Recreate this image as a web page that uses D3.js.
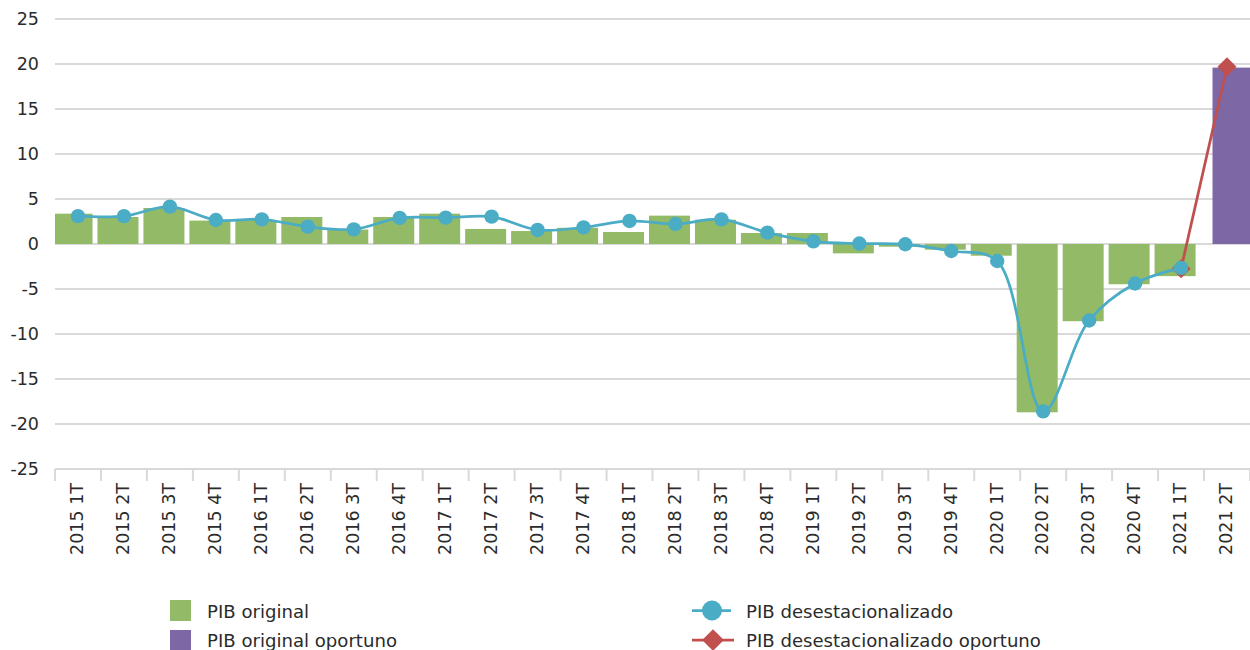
<!DOCTYPE html>
<html>
<head>
<meta charset="utf-8">
<script src="https://cdn.jsdelivr.net/npm/d3@7"></script>
<style>
  html, body { margin: 0; padding: 0; background: #fff; }
  svg { display: block; font-family: "DejaVu Sans", Verdana, sans-serif; }
</style>
</head>
<body>
<svg id="chart" width="1250" height="650"></svg>
<script>
const categories = ["2015 1T","2015 2T","2015 3T","2015 4T","2016 1T","2016 2T","2016 3T","2016 4T",
  "2017 1T","2017 2T","2017 3T","2017 4T","2018 1T","2018 2T","2018 3T","2018 4T",
  "2019 1T","2019 2T","2019 3T","2019 4T","2020 1T","2020 2T","2020 3T","2020 4T","2021 1T","2021 2T"];

const pibOriginal = [3.37, 3.0, 4.0, 2.6, 2.67, 3.0, 1.6, 3.0, 3.37, 1.67, 1.44, 1.8, 1.33, 3.15, 2.7, 1.22,
  1.22, -1.04, -0.3, -0.63, -1.3, -18.7, -8.58, -4.47, -3.57, null];
const pibOriginalOportuno = [null,null,null,null,null,null,null,null,null,null,null,null,null,null,null,null,
  null,null,null,null,null,null,null,null,null, 19.6];
const pibDesestacionalizado = [3.1, 3.1, 4.15, 2.67, 2.74, 1.93, 1.63, 2.9, 2.93, 3.04, 1.56, 1.85, 2.56, 2.22, 2.74, 1.26,
  0.3, 0.05, -0.03, -0.78, -1.89, -18.6, -8.5, -4.39, -2.65, null];
const pibDesestacionalizadoOportuno = [null,null,null,null,null,null,null,null,null,null,null,null,null,null,null,null,
  null,null,null,null,null,null,null,null, -2.75, 19.7];

const yTicks = [25, 20, 15, 10, 5, 0, -5, -10, -15, -20, -25];

const seriesNames = ["PIB original", "PIB original oportuno", "PIB desestacionalizado", "PIB desestacionalizado oportuno"];
const colors = { green: "#93BA66", purple: "#7E67A5", blue: "#4BACC6", red: "#C0504D", grid: "#D9D9D9", text: "#2b2b2b" };

const svg = d3.select("#chart");
const plotLeft = 55, plotRight = 1250, plotTop = 19, plotBottom = 469;

const x = d3.scaleBand().domain(categories).range([plotLeft, plotRight]).padding(0);
const y = d3.scaleLinear().domain([-25, 25]).range([plotBottom, plotTop]);
const bw = x.bandwidth();
const barW = bw * 0.892;
const barOff = bw * 0.13;

svg.append("defs").append("clipPath").attr("id", "plotclip")
  .append("rect").attr("x", plotLeft).attr("y", 0).attr("width", plotRight - plotLeft).attr("height", 650);

// gridlines
svg.append("g").selectAll("line").data(yTicks).join("line")
  .attr("x1", plotLeft).attr("x2", plotRight)
  .attr("y1", d => y(d)).attr("y2", d => y(d))
  .attr("stroke", colors.grid).attr("stroke-width", 2);

// y labels
svg.append("g").selectAll("text").data(yTicks).join("text")
  .attr("x", 39).attr("y", d => y(d)).attr("dy", "0.36em")
  .attr("text-anchor", "end").attr("font-size", 17.5).attr("fill", colors.text)
  .text(d => d);

// x axis ticks
const tickXs = categories.map(c => x(c)).concat([plotRight]);
svg.append("g").selectAll("line").data(tickXs).join("line")
  .attr("x1", d => d).attr("x2", d => d)
  .attr("y1", plotBottom).attr("y2", plotBottom + 12)
  .attr("stroke", colors.grid).attr("stroke-width", 2);

// x labels
svg.append("g").selectAll("text").data(categories).join("text")
  .attr("transform", d => `translate(${x(d) + bw / 2 - 1},483) rotate(-90)`)
  .attr("dy", "0.36em")
  .attr("text-anchor", "end").attr("font-size", 17.5).attr("fill", colors.text)
  .text(d => d);

const bars = svg.append("g").attr("clip-path", "url(#plotclip)");
bars.selectAll("rect.g").data(categories.map((c, i) => ({ c, v: pibOriginal[i] })).filter(d => d.v !== null))
  .join("rect").attr("class", "g")
  .attr("x", d => x(d.c) + bw / 2 - barOff - barW / 2)
  .attr("width", barW)
  .attr("y", d => y(Math.max(0, d.v)))
  .attr("height", d => Math.abs(y(d.v) - y(0)))
  .attr("fill", colors.green);
bars.selectAll("rect.p").data(categories.map((c, i) => ({ c, v: pibOriginalOportuno[i] })).filter(d => d.v !== null))
  .join("rect").attr("class", "p")
  .attr("x", d => x(d.c) + bw / 2 + barOff - barW / 2)
  .attr("width", barW)
  .attr("y", d => y(Math.max(0, d.v)))
  .attr("height", d => Math.abs(y(d.v) - y(0)))
  .attr("fill", colors.purple);

const cx = c => x(c) + bw / 2;

// red line
const redData = categories.map((c, i) => ({ c, v: pibDesestacionalizadoOportuno[i] })).filter(d => d.v !== null);
svg.append("path").datum(redData)
  .attr("d", d3.line().x(d => cx(d.c)).y(d => y(d.v)))
  .attr("fill", "none").attr("stroke", colors.red).attr("stroke-width", 2.75);
const diamond = d3.symbol().type(d3.symbolDiamond2).size(230);
svg.append("g").selectAll("path").data(redData).join("path")
  .attr("transform", d => `translate(${cx(d.c)},${y(d.v)})`)
  .attr("d", diamond).attr("fill", colors.red);

// blue line
const blueData = categories.map((c, i) => ({ c, v: pibDesestacionalizado[i] })).filter(d => d.v !== null);
svg.append("path").datum(blueData)
  .attr("d", d3.line().x(d => cx(d.c)).y(d => y(d.v)).curve(d3.curveCatmullRom.alpha(0.5)))
  .attr("fill", "none").attr("stroke", colors.blue).attr("stroke-width", 2.75);
svg.append("g").selectAll("circle").data(blueData).join("circle")
  .attr("cx", d => cx(d.c)).attr("cy", d => y(d.v)).attr("r", 7.2)
  .attr("fill", colors.blue);

// legend
const lg = svg.append("g").attr("font-size", 18.1).attr("fill", colors.text);
lg.append("rect").attr("x", 170).attr("y", 600).attr("width", 21).attr("height", 21).attr("fill", colors.green);
lg.append("text").attr("x", 207).attr("y", 618).text(seriesNames[0]);
lg.append("rect").attr("x", 170).attr("y", 630).attr("width", 21).attr("height", 21).attr("fill", colors.purple);
lg.append("text").attr("x", 207).attr("y", 647).text(seriesNames[1]);

lg.append("line").attr("x1", 692).attr("x2", 731).attr("y1", 610.5).attr("y2", 610.5)
  .attr("stroke", colors.blue).attr("stroke-width", 2.75);
lg.append("circle").attr("cx", 712).attr("cy", 610.5).attr("r", 10).attr("fill", colors.blue);
lg.append("text").attr("x", 746).attr("y", 618).text(seriesNames[2]);

lg.append("line").attr("x1", 692).attr("x2", 734).attr("y1", 640).attr("y2", 640)
  .attr("stroke", colors.red).attr("stroke-width", 2.75);
lg.append("path").attr("transform", "translate(713,640)")
  .attr("d", d3.symbol().type(d3.symbolDiamond2).size(300)).attr("fill", colors.red);
lg.append("text").attr("x", 746).attr("y", 647).text(seriesNames[3]);
</script>
</body>
</html>
